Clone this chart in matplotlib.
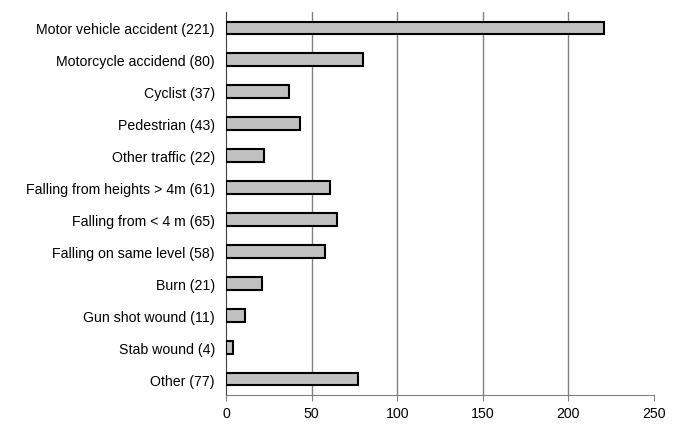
import matplotlib
matplotlib.use("Agg")
import matplotlib.pyplot as plt

categories = [
    "Motor vehicle accident (221)",
    "Motorcycle accidend (80)",
    "Cyclist (37)",
    "Pedestrian (43)",
    "Other traffic (22)",
    "Falling from heights > 4m (61)",
    "Falling from < 4 m (65)",
    "Falling on same level (58)",
    "Burn (21)",
    "Gun shot wound (11)",
    "Stab wound (4)",
    "Other (77)",
]
values = [221, 80, 37, 43, 22, 61, 65, 58, 21, 11, 4, 77]
xticks = [0, 50, 100, 150, 200, 250]

plt.rcParams['font.family'] = ['Liberation Sans', 'DejaVu Sans']

fig = plt.figure(figsize=(6.85, 4.35), dpi=100)
ax = fig.add_axes([226 / 685, 1 - 396 / 435, (654 - 226) / 685, (396 - 13) / 435])

y = list(range(len(categories)))
ax.barh(y, values, height=0.4, color='#c0c0c0', edgecolor='black', linewidth=1.5, zorder=3)

ax.set_ylim(len(categories) - 0.5, -0.5)
ax.set_xlim(0, 250)
ax.set_xticks(xticks)
ax.set_yticks(y)
ax.set_yticklabels(categories, fontsize=10.2)
ax.tick_params(axis='y', length=0, pad=8)
ax.tick_params(axis='x', length=4, color='#808080', labelsize=10.2, pad=4)

for x in xticks[1:-1]:
    ax.axvline(x, color='#808080', linewidth=1, zorder=1)

ax.spines['top'].set_visible(False)
ax.spines['right'].set_visible(False)
ax.spines['bottom'].set_color('#808080')
ax.spines['left'].set_color('#404040')

fig.savefig('out.png', dpi=100)
